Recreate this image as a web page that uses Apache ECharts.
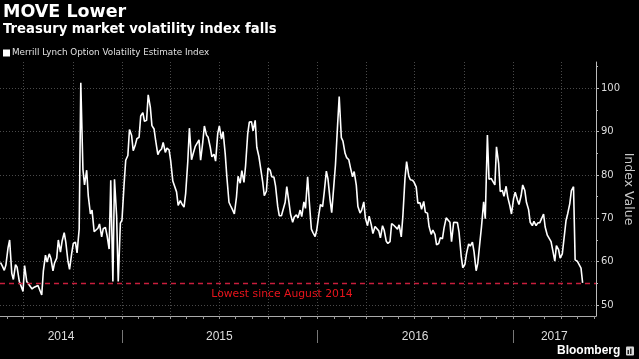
<!DOCTYPE html>
<html><head><meta charset="utf-8">
<script src="https://cdn.jsdelivr.net/npm/echarts@6/dist/echarts.min.js"></script>
<style>html,body{margin:0;padding:0;background:#000;}#chart{width:639px;height:359px;}</style>
</head><body><div id="chart"></div>
<script>
const titleText = 'MOVE Lower';
const subtitleText = 'Treasury market volatility index falls';
const seriesName = 'Merrill Lynch Option Volatility Estimate Index';
const yAxisName = 'Index Value';

const dates = [
'2014-05-19','2014-05-22','2014-05-26','2014-05-29','2014-06-02','2014-06-05','2014-06-09','2014-06-12',
'2014-06-16','2014-06-19','2014-06-23','2014-06-26','2014-06-30','2014-07-03','2014-07-07','2014-07-10',
'2014-07-14','2014-07-17','2014-07-21','2014-07-24','2014-07-28','2014-07-31','2014-08-04','2014-08-07',
'2014-08-11','2014-08-14','2014-08-18','2014-08-21','2014-08-25','2014-08-28','2014-09-01','2014-09-04',
'2014-09-08','2014-09-11','2014-09-15','2014-09-18','2014-09-22','2014-09-25','2014-09-29','2014-10-02',
'2014-10-06','2014-10-09','2014-10-13','2014-10-16','2014-10-20','2014-10-23','2014-10-27','2014-10-30',
'2014-11-03','2014-11-06','2014-11-10','2014-11-13','2014-11-17','2014-11-20','2014-11-24','2014-11-27',
'2014-12-01','2014-12-04','2014-12-08','2014-12-11','2014-12-15','2014-12-18','2014-12-22','2014-12-25',
'2014-12-29','2015-01-01','2015-01-05','2015-01-08','2015-01-12','2015-01-15','2015-01-19','2015-01-22',
'2015-01-26','2015-01-29','2015-02-02','2015-02-05','2015-02-09','2015-02-12','2015-02-16','2015-02-19',
'2015-02-23','2015-02-26','2015-03-02','2015-03-05','2015-03-09','2015-03-12','2015-03-16','2015-03-19',
'2015-03-23','2015-03-26','2015-03-30','2015-04-02','2015-04-06','2015-04-09','2015-04-13','2015-04-16',
'2015-04-20','2015-04-23','2015-04-27','2015-04-30','2015-05-04','2015-05-07','2015-05-11','2015-05-14',
'2015-05-18','2015-05-21','2015-05-25','2015-05-28','2015-06-01','2015-06-04','2015-06-08','2015-06-11',
'2015-06-15','2015-06-18','2015-06-22','2015-06-25','2015-06-29','2015-07-02','2015-07-06','2015-07-09',
'2015-07-13','2015-07-16','2015-07-20','2015-07-23','2015-07-27','2015-07-30','2015-08-03','2015-08-06',
'2015-08-10','2015-08-13','2015-08-17','2015-08-20','2015-08-24','2015-08-27','2015-08-31','2015-09-03',
'2015-09-07','2015-09-10','2015-09-14','2015-09-17','2015-09-21','2015-09-24','2015-09-28','2015-10-01',
'2015-10-05','2015-10-08','2015-10-12','2015-10-15','2015-10-19','2015-10-22','2015-10-26','2015-10-29',
'2015-11-02','2015-11-05','2015-11-09','2015-11-12','2015-11-16','2015-11-19','2015-11-23','2015-11-26',
'2015-11-30','2015-12-03','2015-12-07','2015-12-10','2015-12-14','2015-12-17','2015-12-21','2015-12-24',
'2015-12-28','2015-12-31','2016-01-04','2016-01-07','2016-01-11','2016-01-14','2016-01-18','2016-01-21',
'2016-01-25','2016-01-28','2016-02-01','2016-02-04','2016-02-08','2016-02-11','2016-02-15','2016-02-18',
'2016-02-22','2016-02-25','2016-02-29','2016-03-03','2016-03-07','2016-03-10','2016-03-14','2016-03-17',
'2016-03-21','2016-03-24','2016-03-28','2016-03-31','2016-04-04','2016-04-07','2016-04-11','2016-04-14',
'2016-04-18','2016-04-21','2016-04-25','2016-04-28','2016-05-02','2016-05-05','2016-05-09','2016-05-12',
'2016-05-16','2016-05-19','2016-05-23','2016-05-26','2016-05-30','2016-06-02','2016-06-06','2016-06-09',
'2016-06-13','2016-06-16','2016-06-20','2016-06-23','2016-06-27','2016-06-30','2016-07-04','2016-07-07',
'2016-07-11','2016-07-14','2016-07-18','2016-07-21','2016-07-25','2016-07-28','2016-08-01','2016-08-04',
'2016-08-08','2016-08-11','2016-08-15','2016-08-18','2016-08-22','2016-08-25','2016-08-29','2016-09-01',
'2016-09-05','2016-09-08','2016-09-12','2016-09-15','2016-09-19','2016-09-22','2016-09-26','2016-09-29',
'2016-10-03','2016-10-06','2016-10-10','2016-10-13','2016-10-17','2016-10-20','2016-10-24','2016-10-27',
'2016-10-31','2016-11-03','2016-11-07','2016-11-10','2016-11-14','2016-11-17','2016-11-21','2016-11-24',
'2016-11-28','2016-12-01','2016-12-05','2016-12-08','2016-12-12','2016-12-15','2016-12-19','2016-12-22',
'2016-12-26','2016-12-29','2017-01-02','2017-01-05','2017-01-09','2017-01-12','2017-01-16','2017-01-19',
'2017-01-23','2017-01-26','2017-01-30','2017-02-02','2017-02-06','2017-02-09','2017-02-13','2017-02-16',
'2017-02-20','2017-02-23','2017-02-27','2017-03-02','2017-03-06','2017-03-09','2017-03-13','2017-03-16',
'2017-03-20','2017-03-23','2017-03-27','2017-03-30','2017-04-03','2017-04-06','2017-04-10','2017-04-13',
'2017-04-17','2017-04-20','2017-04-24','2017-04-27','2017-05-01','2017-05-04','2017-05-08','2017-05-11'
];

const moveValues = [
59.8,59.1,58.0,59.2,63.2,65.0,57.3,55.9,
59.3,58.7,55.5,54.5,53.1,59.1,55.4,55.1,
54.2,53.7,54.1,54.1,54.5,54.6,52.3,57.8,
61.5,59.9,61.8,60.8,57.9,59.7,60.8,65.0,
62.2,64.7,66.7,64.5,60.1,58.2,61.9,64.2,
64.5,62.0,67.5,101.3,81.3,77.7,81.1,75.2,
71.0,71.9,66.9,66.6,67.7,68.7,65.7,67.6,
67.9,66.1,62.9,78.8,55.4,79.0,70.5,55.4,
68.9,69.6,78.0,83.4,84.5,90.5,89.1,85.6,
87.0,88.4,88.7,93.6,94.4,92.4,92.6,98.5,
95.6,91.4,90.6,87.9,84.7,85.5,86.0,87.5,
85.2,86.2,85.8,83.3,78.6,78.5,76.1,73.0,
74.1,73.3,72.6,75.7,83.1,90.8,83.5,84.9,
86.6,86.6,88.1,83.4,87.6,91.3,89.2,88.7,
86.4,84.2,84.8,83.2,89.6,91.3,88.3,90.0,
84.8,79.6,73.7,72.9,71.9,71.0,74.9,79.7,
78.1,81.0,78.3,82.1,89.5,92.2,92.3,90.2,
92.6,86.4,84.2,84.3,78.4,75.2,76.3,81.6,
81.1,79.6,79.5,77.5,72.8,70.6,70.6,70.2,
73.7,77.3,73.8,71.0,69.1,70.3,70.8,70.1,
71.9,70.4,73.8,72.3,79.6,74.0,67.5,66.7,
65.8,67.3,70.9,73.2,72.7,76.0,80.9,79.1,
74.2,71.3,77.6,82.3,91.5,98.1,88.6,87.8,
85.0,84.0,83.5,81.7,79.6,80.8,77.6,72.7,
71.2,71.9,73.8,70.0,68.3,70.5,68.5,66.5,
68.1,68.5,67.1,65.5,68.3,67.3,64.7,64.2,
64.6,68.8,68.4,68.8,67.5,68.5,65.7,70.5,
79.3,83.1,79.8,78.9,78.8,78.3,77.2,73.5,
73.6,72.1,73.9,71.4,71.2,68.1,66.3,67.3,
66.3,63.9,64.2,65.5,65.3,67.8,70.1,70.2,
69.1,64.6,69.1,68.8,69.0,66.8,61.3,58.6,
59.4,61.9,64.1,63.6,64.5,62.3,57.9,59.6,
64.5,68.1,73.8,69.9,89.2,79.0,79.2,79.3,
77.7,86.5,82.7,76.2,76.4,75.1,77.4,74.9,
72.9,71.0,74.6,76.0,74.3,73.2,75.2,77.7,
76.4,73.7,72.0,69.1,68.3,69.3,68.3,68.9,
69.0,69.4,71.0,68.0,66.1,66.1,64.6,62.7,
60.1,63.7,62.8,60.8,61.8,65.1,69.5,71.0,
73.4,76.4,77.3,60.4,60.1,60.1,58.5,55.1
];

const yLabelValues = [50, 60, 70, 80, 90, 100];
const yMinorTicks = [55, 65, 75, 85, 95, 105];
const yRange = [47.46, 106.07];
const xRange = ['2014-05-18', '2017-06-05'];
const monthTicks = [
'2014-06-01','2014-07-01','2014-08-01','2014-09-01','2014-10-01','2014-11-01','2014-12-01',
'2015-01-01','2015-02-01','2015-03-01','2015-04-01','2015-05-01','2015-06-01','2015-07-01','2015-08-01','2015-09-01','2015-10-01','2015-11-01','2015-12-01',
'2016-01-01','2016-02-01','2016-03-01','2016-04-01','2016-05-01','2016-06-01','2016-07-01','2016-08-01','2016-09-01','2016-10-01','2016-11-01','2016-12-01',
'2017-01-01','2017-02-01','2017-03-01','2017-04-01','2017-05-01','2017-06-01'
];
const quarterLines = ['2014-07-01','2014-10-01','2015-01-01','2015-04-01','2015-07-01','2015-10-01',
'2016-01-01','2016-04-01','2016-07-01','2016-10-01','2017-01-01','2017-04-01'];
const yearStarts = ['2015-01-01','2016-01-01','2017-01-01'];
const yearLabelDates = ['2014-09-09','2015-07-02','2016-07-02','2017-03-19'];
const yearLabels = ['2014','2015','2016','2017'];
const lowLevel = 55;
const lowLabel = 'Lowest since August 2014';

// ISO date-only strings parse as UTC midnight
const ts = s => Date.parse(s);
const chart = echarts.init(document.getElementById('chart'), null, {renderer: 'canvas'});
const seriesData = dates.map((d, i) => [ts(d), moveValues[i]]);
const FONT = 'DejaVu Sans';

const option = {
  backgroundColor: '#000',
  animation: false,
  textStyle: { fontFamily: FONT },
  title: [
    { text: titleText, left: 3, top: 3, padding: 0,
      textStyle: { color: '#fff', fontFamily: FONT, fontWeight: 'bold', fontSize: 17.5 } },
    { text: subtitleText, left: 3, top: 23.5, padding: 0,
      textStyle: { color: '#fff', fontFamily: FONT, fontWeight: 'bold', fontSize: 13.2 } }
  ],
  legend: {
    data: [seriesName], left: 3, top: 48.5, padding: 0,
    icon: 'rect', itemWidth: 7, itemHeight: 7, selectedMode: false,
    textStyle: { color: '#e0e0e0', fontSize: 8.8, fontFamily: FONT, padding: [0, 0, 0, -3] }
  },
  grid: { left: 0, right: 43, top: 62, bottom: 43, containLabel: false, outerBoundsMode: 'none' },
  xAxis: [
    { type: 'value', min: ts(xRange[0]), max: ts(xRange[1]), position: 'bottom', scale: true,
      axisLine: { show: true, lineStyle: { color: '#aaa', width: 1 } },
      axisTick: { show: true, customValues: monthTicks.map(ts), length: 3, lineStyle: { color: '#999' } },
      axisLabel: { show: false }, splitLine: { show: false } },
    { type: 'value', min: ts(xRange[0]), max: ts(xRange[1]), position: 'bottom', scale: true,
      axisLine: { show: false },
      axisTick: { show: false, customValues: quarterLines.map(ts) },
      axisLabel: { show: false },
      splitLine: { show: true, lineStyle: { color: '#4a4a4a', width: 1, type: [1, 2] } } },
    { type: 'value', min: ts(xRange[0]), max: ts(xRange[1]), position: 'bottom', offset: 14, scale: true,
      axisLine: { show: false },
      axisTick: { show: true, customValues: yearStarts.map(ts), length: 13, lineStyle: { color: '#777', width: 1 } },
      axisLabel: { show: true, customValues: yearLabelDates.map(ts), margin: 1, color: '#ddd',
        fontFamily: 'Liberation Sans', fontSize: 12,
        formatter: function (val) {
          const y = String(new Date(val).getUTCFullYear());
          return yearLabels.indexOf(y) >= 0 ? y : '';
        } },
      splitLine: { show: false } }
  ],
  yAxis: [
    { type: 'value', min: yRange[0], max: yRange[1], position: 'right',
      name: yAxisName, nameLocation: 'middle', nameRotate: -90, nameGap: 26, nameMoveOverlap: false,
      nameTextStyle: { color: '#c8c8c8', fontSize: 12.5, fontFamily: FONT },
      axisLine: { show: true, lineStyle: { color: '#bbb', width: 1 } },
      axisTick: { show: true, customValues: yLabelValues, length: 3, lineStyle: { color: '#bbb' } },
      axisLabel: { show: true, customValues: yLabelValues, margin: 5, color: '#ddd', fontSize: 10, fontFamily: FONT },
      splitLine: { show: true, lineStyle: { color: '#4a4a4a', width: 1, type: [1, 2] } } },
    { type: 'value', min: yRange[0], max: yRange[1], position: 'right',
      axisLine: { show: false },
      axisTick: { show: true, customValues: yMinorTicks, length: 2, lineStyle: { color: '#bbb' } },
      axisLabel: { show: false }, splitLine: { show: false } }
  ],
  series: [{
    name: seriesName, type: 'line', xAxisIndex: 0, yAxisIndex: 0,
    data: seriesData, showSymbol: false, symbol: 'none',
    lineStyle: { color: '#fff', width: 1.6 }, itemStyle: { color: '#fff' },
    markLine: {
      silent: true, symbol: ['none', 'none'], animation: false,
      data: [{ yAxis: lowLevel }],
      lineStyle: { color: '#c81e3c', type: [5, 4], width: 1.3, opacity: 1 },
      label: { show: true, position: 'insideMiddleBottom', formatter: lowLabel,
        color: '#e8141c', fontSize: 10.8, fontFamily: FONT, offset: [-16, 0] }
    }
  }],
  graphic: [
    { type: 'text', left: 557, top: 344.7,
      style: { text: 'Bloomberg', fill: '#fff', font: 'bold 12px "Liberation Sans"' } },
    { type: 'rect', shape: { x: 626, y: 346.5, width: 8, height: 9, r: 1 }, style: { fill: '#d8d8d8' } },
    { type: 'rect', shape: { x: 627.5, y: 350, width: 1.5, height: 4 }, style: { fill: '#222' } },
    { type: 'rect', shape: { x: 630, y: 348.5, width: 1.5, height: 5.5 }, style: { fill: '#222' } }
  ]
};
chart.setOption(option);
</script>
</body></html>
